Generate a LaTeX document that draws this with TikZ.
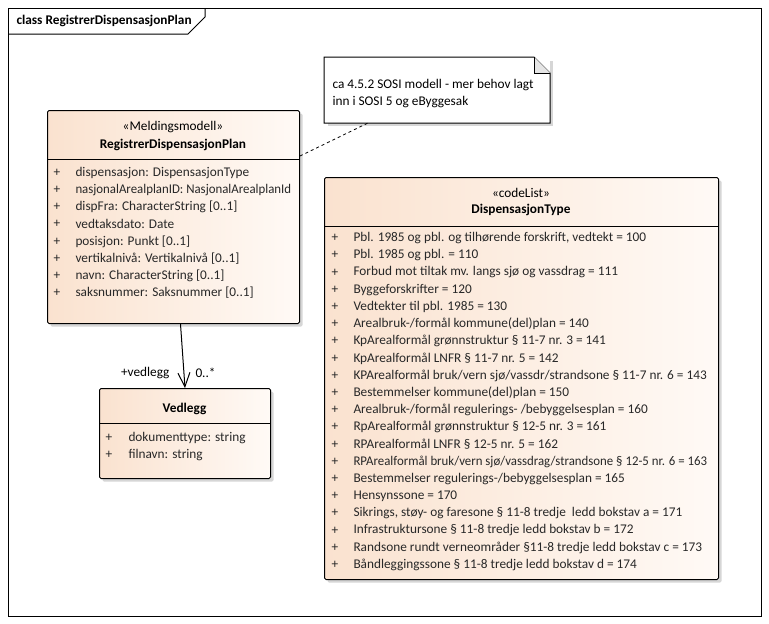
\documentclass[tikz,border=0pt]{standalone}
\usepackage{fontspec}
\setmainfont{Carlito}
\usepackage{tikz}
\usetikzlibrary{positioning,shapes,arrows.meta,calc,shadows}

\definecolor{umlpeach}{RGB}{250,226,207}
\definecolor{umlwhite}{RGB}{255,250,246}
\definecolor{umlshadow}{RGB}{214,214,214}
\definecolor{umltext}{RGB}{40,40,40}

\tikzset{
    umlclass/.style={draw, rounded corners=1.5pt, anchor=north west, inner sep=0pt,
        left color=umlpeach, right color=umlwhite,
        drop shadow={shadow xshift=3pt, shadow yshift=-3pt, fill=umlshadow, opacity=1}},
    attr/.style={anchor=west, inner sep=0pt, text=umltext},
    head/.style={inner sep=0pt},
    assoc/.style={-{Straight Barb[length=14pt,width=12pt]}},
}
% squeeze a too long line a little
\newcommand{\tight}[1]{\scalebox{0.965}[1]{#1}}

\begin{document}
\begin{tikzpicture}[x=1pt,y=-1pt,line width=1pt,font=\fontsize{13.3}{16}\selectfont]
    \useasboundingbox (0,0) rectangle (769,624);
    \fill[white] (0,0) rectangle (769,624);

    % frame
    \node[draw, anchor=north west, minimum width=753pt, minimum height=608pt, inner sep=0pt] (frame) at (8,8) {};
    \draw (frame.north west) ++(0,26) -- (188,34) -- (205,17) -- (205,8);
    \node[head, anchor=west] (title) at (16,21) {\bfseries class RegistrerDispensasjonPlan};

    % note
    \node[anchor=north west, minimum width=225pt, minimum height=65pt, inner sep=0pt,
        drop shadow={shadow xshift=3pt, shadow yshift=-3pt, fill=umlshadow, opacity=1}, fill=white] (note) at (324,57) {};
    \draw[fill=white] (note.south west) -- (note.north west) -- ($(note.north east)+(-16,0)$)
        -- ($(note.north east)+(0,16)$) -- (note.south east) -- cycle;
    \draw[fill=black!10] ($(note.north east)+(-16,0)$) -- ($(note.north east)+(-16,16)$) -- ($(note.north east)+(0,16)$);
    \node[attr, text=black] (n1) at (332,85) {ca 4.5.2 SOSI modell - mer behov lagt};
    \node[attr, text=black] (n2) at (332,102) {inn i SOSI 5 og eByggesak};

    % RegistrerDispensasjonPlan
    \node[umlclass, minimum width=252pt, minimum height=213pt] (plan) at (47,110) {};
    \draw (47,159) -- (299,159);
    \node[head] (planst) at (173,127) {«Meldingsmodell»};
    \node[head] (planname) at (173,145) {\bfseries RegistrerDispensasjonPlan};
    \foreach \t [count=\i] in {dispensasjon: DispensasjonType, \tight{nasjonalArealplanID: NasjonalArealplanId},
        dispFra: CharacterString [0..1], vedtaksdato: Date, posisjon: Punkt [0..1],
        vertikalnivå: Vertikalnivå [0..1], navn: CharacterString [0..1], saksnummer: Saksnummer [0..1]}{
        \node[attr] (pp\i) at (53,155.9+17.1*\i) {+};
        \node[attr] (pa\i) at (75,155.9+17.1*\i) {\t};
    }

    % Vedlegg
    \node[umlclass, minimum width=171pt, minimum height=90pt] (vedlegg) at (99,388) {};
    \draw (99,423) -- (270,423);
    \node[head] (vedname) at (184.5,409) {\bfseries Vedlegg};
    \foreach \t [count=\i] in {dokumenttype: string, filnavn: string}{
        \node[attr] (vp\i) at (105,421+17*\i) {+};
        \node[attr] (va\i) at (128,421+17*\i) {\t};
    }

    % DispensasjonType
    \node[umlclass, minimum width=394pt, minimum height=402pt] (disp) at (324,177) {};
    \draw (324,226) -- (718,226);
    \node[head] (dispst) at (521,193) {«codeList»};
    \node[head] (dispname) at (521,210) {\bfseries DispensasjonType};
    \foreach \t [count=\i] in {{Pbl. 1985 og pbl. og tilhørende forskrift, vedtekt = 100},
        Pbl. 1985 og pbl. = 110,
        Forbud mot tiltak mv. langs sjø og vassdrag = 111,
        Byggeforskrifter = 120,
        Vedtekter til pbl. 1985 = 130,
        Arealbruk-/formål kommune(del)plan = 140,
        KpArealformål grønnstruktur § 11-7 nr. 3 = 141,
        KpArealformål LNFR § 11-7 nr. 5 = 142,
        KPArealformål bruk/vern sjø/vassdr/strandsone § 11-7 nr. 6 = 143,
        Bestemmelser kommune(del)plan = 150,
        Arealbruk-/formål regulerings- /bebyggelsesplan = 160,
        RpArealformål grønnstruktur § 12-5 nr. 3 = 161,
        RPArealformål LNFR § 12-5 nr. 5 = 162,
        \tight{RPArealformål bruk/vern sjø/vassdrag/strandsone § 12-5 nr. 6 = 163},
        Bestemmelser regulerings-/bebyggelsesplan = 165,
        Hensynssone = 170,
        {Sikrings, støy- og faresone § 11-8 tredje\ \ ledd bokstav a = 171},
        Infrastruktursone § 11-8 tredje ledd bokstav b = 172,
        Randsone rundt verneområder §11-8 tredje ledd bokstav c = 173,
        Båndleggingssone § 11-8 tredje ledd bokstav d = 174}{
        \node[attr] (dp\i) at (331,220.8+17.2*\i) {+};
        \node[attr] (da\i) at (353,220.8+17.2*\i) {\t};
    }

    % connectors
    \draw[dashed, line width=0.8pt] ($(plan.north east)+(0,46)$) -- ($(note.south west)+(44,0)$);
    \draw[assoc] ($(plan.south)+(7,0)$) -- (vedlegg.north);
    \node[head, anchor=east] (role) at (170,373) {+vedlegg};
    \node[head, anchor=west] (mult) at (195,373) {0..*};
\end{tikzpicture}
\end{document}
